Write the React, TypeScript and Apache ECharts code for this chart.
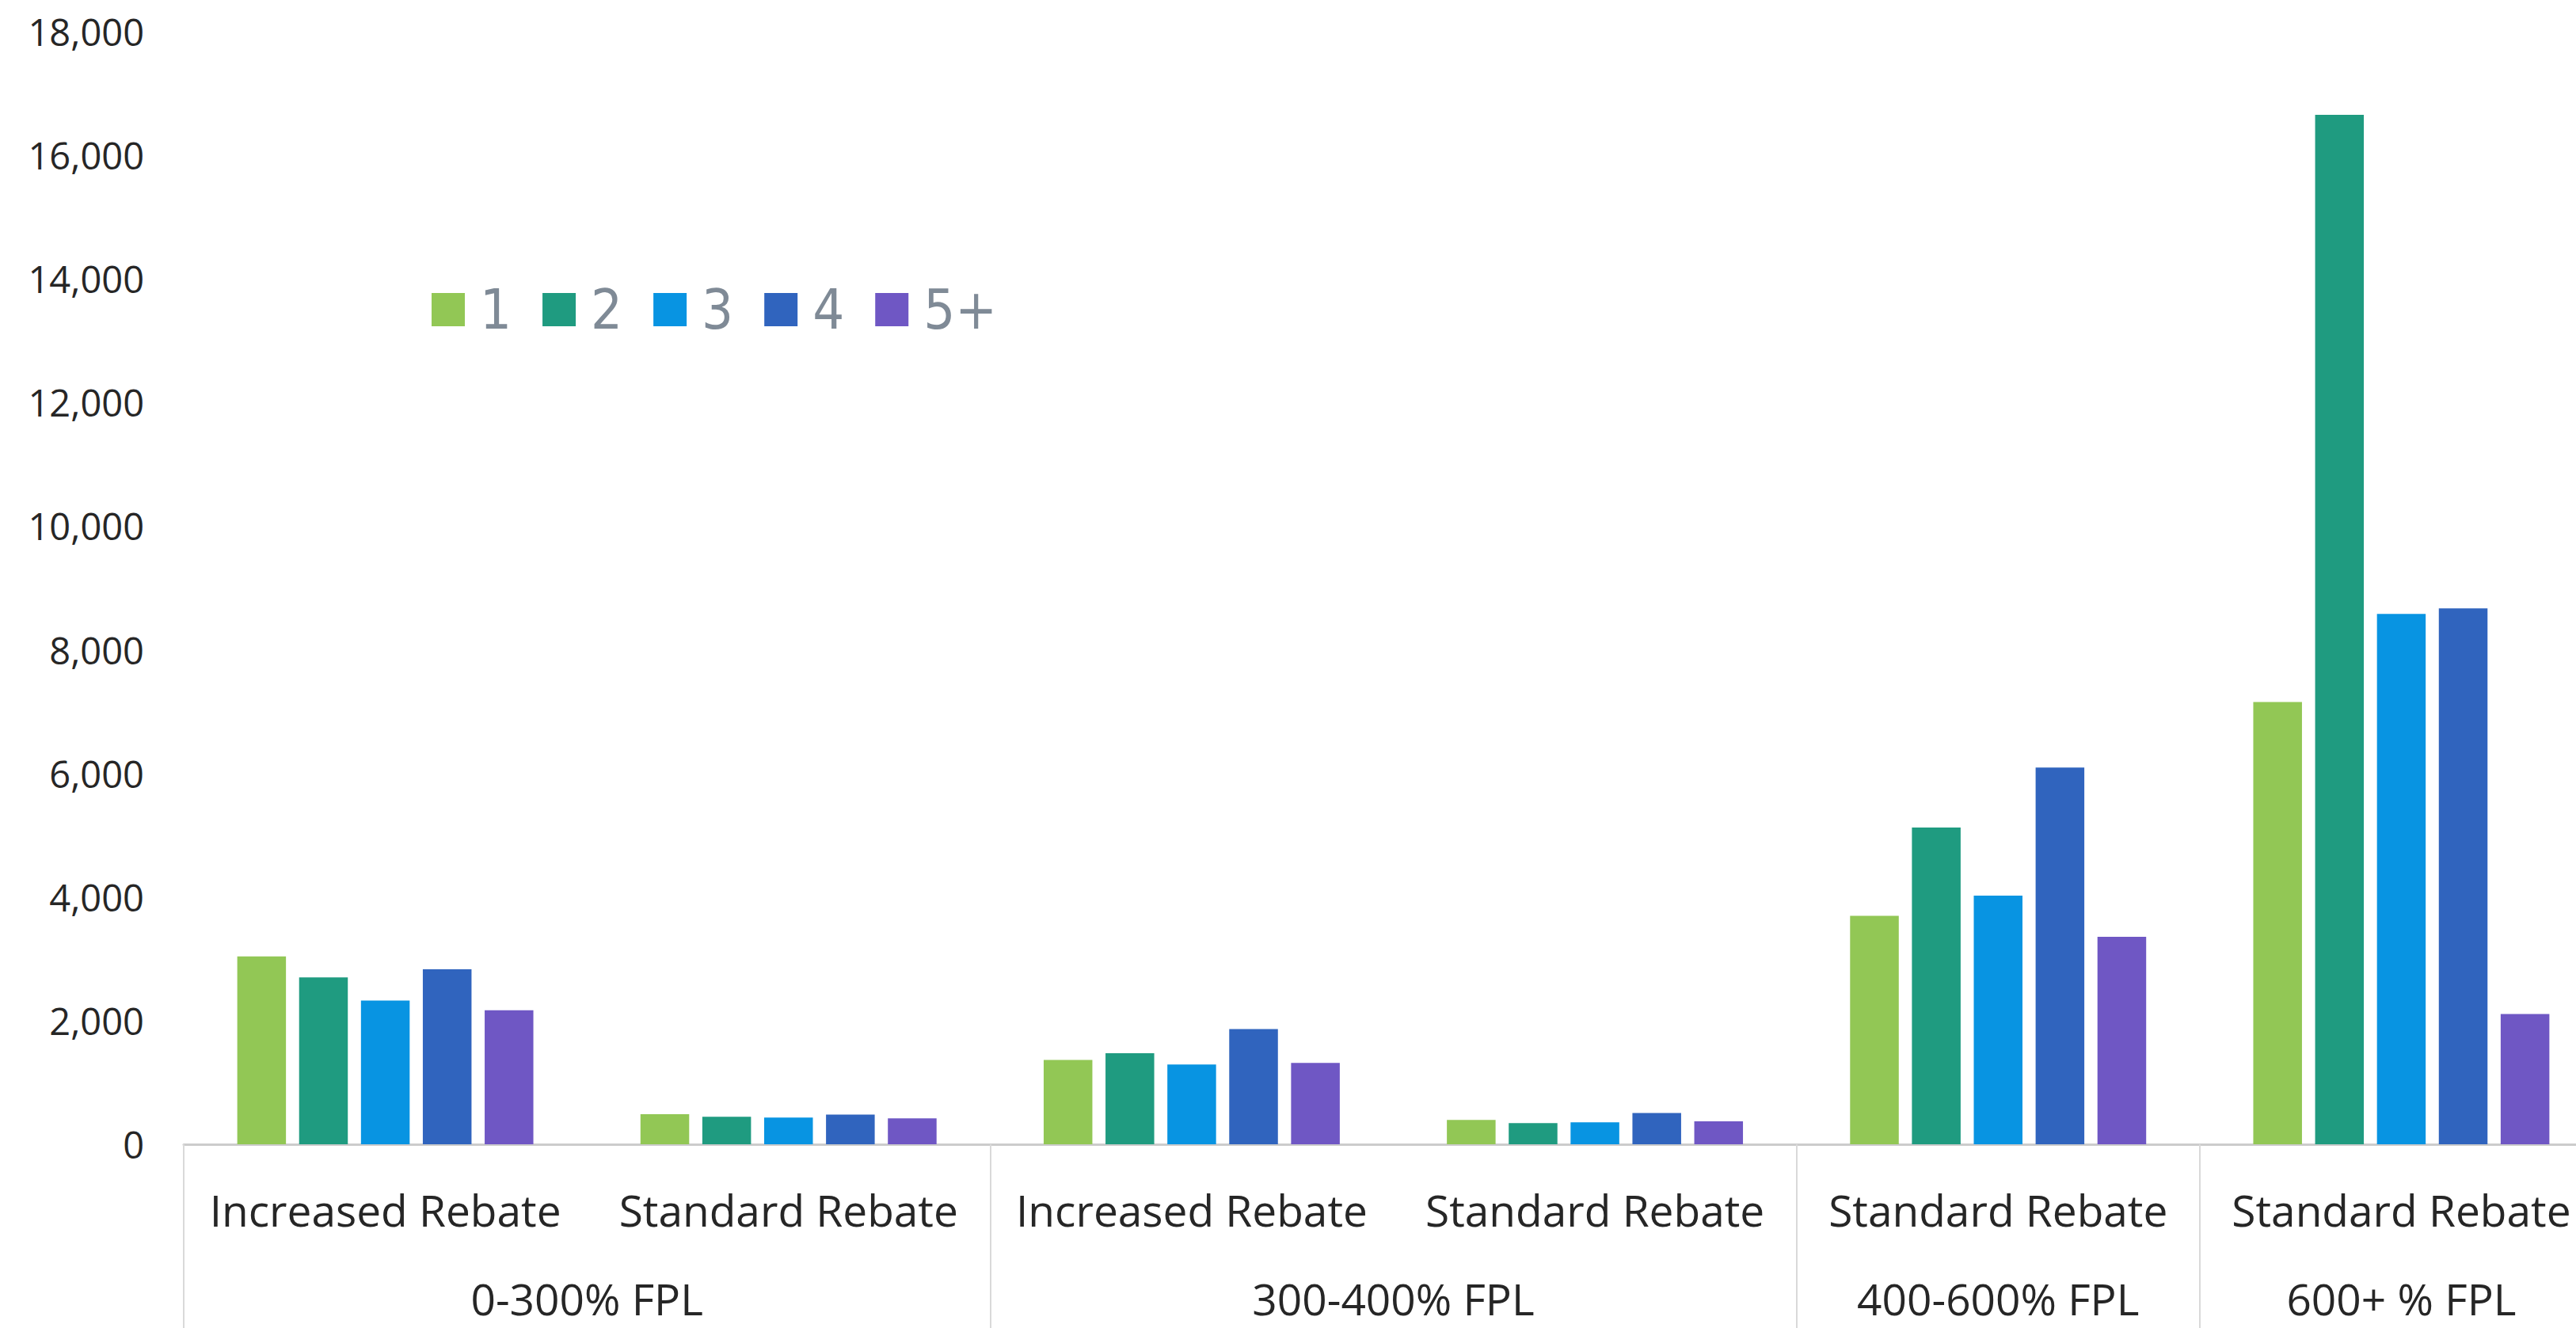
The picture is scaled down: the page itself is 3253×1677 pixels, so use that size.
import React, { useEffect, useRef } from "react";
import * as echarts from "echarts";

// Inner category level (one entry per bar cluster)
const categories = [
  "Increased Rebate",
  "Standard Rebate",
  "Increased Rebate",
  "Standard Rebate",
  "Standard Rebate",
  "Standard Rebate",
];

// Outer category level: group names and how many clusters each spans
const groupNames = ["0-300% FPL", "300-400% FPL", "400-600% FPL", "600+ % FPL"];
const groupSizes = [2, 2, 1, 1];

// Household-size series
const seriesNames = ["1", "2", "3", "4", "5+"];
const seriesColors = ["#92C755", "#1F9B80", "#0894E2", "#3064BE", "#6F57C4"];

const values1 = [3040, 486, 1364, 395, 3695, 7155];
const values2 = [2700, 446, 1472, 344, 5126, 16655];
const values3 = [2326, 433, 1291, 356, 4022, 8580];
const values4 = [2830, 481, 1864, 506, 6095, 8670];
const values5 = [2167, 421, 1317, 373, 3355, 2108];

const seriesValues = [values1, values2, values3, values4, values5];

const yMin = 0;
const yMax = 18000;
const yStep = 2000;

const textFont = "'Open Sans', 'Noto Sans', sans-serif";
const legendFont = "'DejaVu Sans Condensed', 'Liberation Sans Narrow', 'DejaVu Sans', sans-serif";

// The drawing surface runs a little past the visible frame on the right,
// so the last cluster's band is partly cut by the frame.
const frameWidth = 3253;
const frameHeight = 1677;
const canvasWidth = 3300;

export default function App() {
  const ref = useRef<HTMLDivElement>(null);

  useEffect(() => {
    if (!ref.current) return;
    const chart = echarts.init(ref.current, null, { renderer: "svg" });

    // Group edges and centres expressed on a 0..N scale that lines up with the category bands
    const bounds: number[] = [0];
    groupSizes.forEach((n) => bounds.push(bounds[bounds.length - 1] + n));
    const centres = groupSizes.map((n, i) => bounds[i] + n / 2);
    const total = bounds[bounds.length - 1];

    chart.setOption({
      animation: false,
      backgroundColor: "#ffffff",
      grid: { left: 232, right: 13, top: 40, bottom: 232, containLabel: false },
      legend: {
        data: seriesNames,
        left: 540,
        top: 351,
        icon: "rect",
        itemWidth: 42,
        itemHeight: 42,
        itemGap: 39,
        textStyle: {
          fontFamily: legendFont,
          fontSize: 70,
          color: "#7F8A96",
          lineHeight: 42,
          padding: [0, 0, 0, 14],
        },
      },
      xAxis: [
        {
          type: "category",
          data: categories,
          position: "bottom",
          axisLine: { show: true, onZero: true, lineStyle: { color: "#CCCCCC", width: 3 } },
          axisTick: { show: false },
          axisLabel: {
            interval: 0,
            margin: 55,
            fontFamily: textFont,
            fontSize: 55,
            color: "#262626",
          },
          splitLine: { show: false },
        },
        {
          type: "value",
          min: 0,
          max: total,
          position: "bottom",
          axisLine: { show: false },
          axisTick: {
            show: true,
            customValues: bounds,
            length: 240,
            lineStyle: { color: "#D9D9D9", width: 2 },
          },
          axisLabel: {
            show: true,
            customValues: centres,
            margin: 171,
            fontFamily: textFont,
            fontSize: 55,
            lineHeight: 46,
            color: "#262626",
            formatter: (v: number) => {
              const i = centres.findIndex((c) => Math.abs(c - v) < 1e-6);
              return i >= 0 ? groupNames[i] : "";
            },
          },
          splitLine: { show: false },
        },
      ],
      yAxis: {
        type: "value",
        min: yMin,
        max: yMax,
        interval: yStep,
        axisLine: { show: false },
        axisTick: { show: false },
        splitLine: { show: false },
        axisLabel: {
          margin: 50,
          fontFamily: textFont,
          fontSize: 47,
          color: "#262626",
          formatter: (v: number) => v.toLocaleString("en-US"),
        },
      },
      series: seriesNames.map((name, i) => ({
        name,
        type: "bar",
        xAxisIndex: 0,
        data: seriesValues[i],
        barWidth: 61.5,
        barGap: "27%",
        itemStyle: { color: seriesColors[i] },
      })),
    });

    return () => chart.dispose();
  }, []);

  return (
    <div
      style={{
        position: "fixed",
        left: 0,
        top: 0,
        width: frameWidth,
        height: frameHeight,
        overflow: "hidden",
        background: "#ffffff",
      }}
    >
      <div ref={ref} style={{ width: canvasWidth, height: frameHeight }} />
    </div>
  );
}
